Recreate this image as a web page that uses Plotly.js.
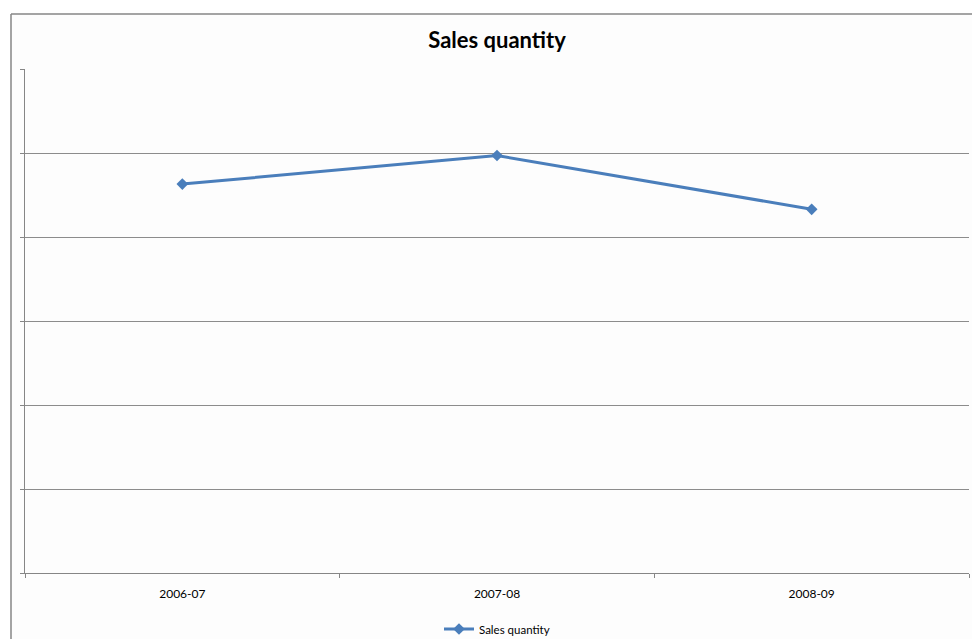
<!DOCTYPE html>
<html>
<head>
<meta charset="utf-8">
<script src="https://cdn.plot.ly/plotly-3.0.1.min.js"></script>
<style>html,body{margin:0;padding:0;background:#fff;}#chart{width:972px;height:639px;}</style>
</head>
<body>
<div id="chart"></div>
<script>
var categories = ["2006-07", "2007-08", "2008-09"];
var salesQuantity = [4.63, 4.97, 4.33];
var seriesName = "Sales quantity";
var chartTitle = "Sales quantity";

var FONT = "Lato, 'Open Sans', sans-serif";
var trace = {
  x: categories,
  y: salesQuantity,
  name: seriesName,
  type: "scatter",
  mode: "lines+markers",
  line: {color: "#4a7ebb", width: 3},
  marker: {symbol: "diamond", size: 9, color: "#4a7ebb"}
};

var bx = -14/944, by = 559/504;
var layout = {
  width: 972, height: 639,
  margin: {l: 25, r: 3, t: 69, b: 66, autoexpand: false},
  paper_bgcolor: "#fdfdfd",
  plot_bgcolor: "#fdfdfd",
  font: {family: FONT, color: "#000"},
  title: {text: "<b>" + chartTitle + "</b>", font: {family: FONT, size: 22, color: "#000"},
          xref: "paper", x: 0.5, xanchor: "center", y: 1 - 40/639, yanchor: "middle", yref: "container"},
  xaxis: {
    type: "category", range: [-0.5, 2.5], automargin: false,
    showgrid: false, zeroline: false,
    showline: true, linecolor: "#868686", linewidth: 1,
    ticks: "outside", tickson: "boundaries", ticklen: 4, tickcolor: "#868686",
    tickfont: {family: FONT, size: 12, color: "#000"},
    ticklabelstandoff: 10
  },
  yaxis: {
    range: [0, 6], dtick: 1, automargin: false,
    showgrid: true, gridcolor: "#8c8c8c", gridwidth: 1,
    zeroline: false,
    showline: true, linecolor: "#868686", linewidth: 1,
    ticks: "outside", ticklen: 4, tickcolor: "#868686",
    showticklabels: false
  },
  showlegend: true,
  legend: {orientation: "h", x: 0.5, xanchor: "center", yref: "container", y: 1 - 629/639, yanchor: "middle",
           font: {family: FONT, size: 11.5, color: "#000"}, bgcolor: "rgba(0,0,0,0)"},
  shapes: [
    {type: "rect", xref: "paper", yref: "paper", x0: -0.1, x1: bx, y0: -0.3, y1: 1.3,
     line: {width: 0}, fillcolor: "#ffffff", layer: "below"},
    {type: "rect", xref: "paper", yref: "paper", x0: -0.1, x1: 1.1, y0: by, y1: 1.3,
     line: {width: 0}, fillcolor: "#ffffff", layer: "below"},
    {type: "line", xref: "paper", yref: "paper", x0: bx, x1: bx, y0: by, y1: -0.3,
     line: {color: "#868686", width: 1.5}},
    {type: "line", xref: "paper", yref: "paper", x0: bx, x1: 1.1, y0: by, y1: by,
     line: {color: "#868686", width: 1.5}}
  ]
};

Plotly.newPlot("chart", [trace], layout, {displayModeBar: false, staticPlot: true});
</script>
</body>
</html>
